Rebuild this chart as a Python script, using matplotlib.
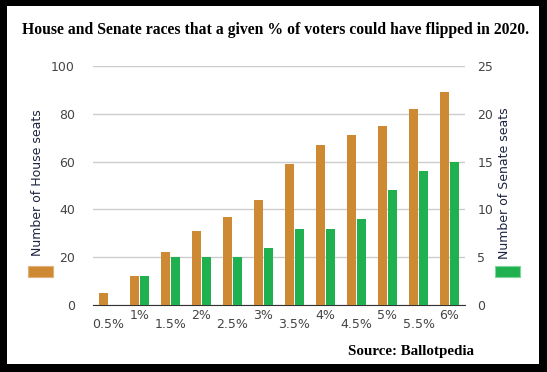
import matplotlib.pyplot as plt
import numpy as np
from matplotlib.patches import Rectangle

# share of voters needed to flip a race
labels = ['0.5%', '1%', '1.5%', '2%', '2.5%', '3%', '3.5%', '4%', '4.5%', '5%', '5.5%', '6%']
house = [5, 12, 22, 31, 37, 44, 59, 67, 71, 75, 82, 89]
senate = [0, 3, 5, 5, 5, 6, 8, 8, 9, 12, 14, 15]

orange = '#cd8a33'
green = '#1fb04f'
txt = '#1c2340'

W, H = 547, 372
fig = plt.figure(figsize=(W / 100, H / 100), dpi=100)
ax = fig.add_axes([93 / W, 1 - 305 / H, 372 / W, 239 / H])
ax2 = ax.twinx()

x = np.arange(len(labels))
w = 0.29
ax.bar(x - w / 2 - 0.015, house, width=w, color=orange, zorder=3)
ax2.bar(x + w / 2 + 0.015, senate, width=w, color=green, zorder=3)

ax.set_xlim(-0.5, len(labels) - 0.5)
ax.set_ylim(0, 100)
ax2.set_ylim(0, 25)
ax.set_yticks(range(0, 101, 20))
ax2.set_yticks(range(0, 26, 5))
ax.grid(axis='y', color='#cccccc', linewidth=1, zorder=0)
ax.set_axisbelow(True)

for a in (ax, ax2):
    for s in a.spines.values():
        s.set_visible(False)
    a.tick_params(length=0, labelsize=9, labelcolor='#444444')
ax.spines['bottom'].set_visible(True)
ax.spines['bottom'].set_color('#333333')
ax.tick_params(axis='y', pad=13)
ax2.tick_params(axis='y', pad=9)

ax.set_xticks(x)
ax.set_xticklabels(labels, fontsize=9, color='#444444')
for i, t in enumerate(ax.xaxis.get_major_ticks()):
    t.set_pad(9 if i % 2 == 0 else 3)

# side labels with legend swatches
fig.text(38 / W, 1 - 183 / H, 'Number of House seats', rotation=90, ha='center', va='center',
         fontsize=9, color=txt)
fig.text(505 / W, 1 - 183 / H, 'Number of Senate seats', rotation=90, ha='center', va='center',
         fontsize=9, color=txt)
fig.patches.append(Rectangle((28 / W, 1 - 277 / H), 25 / W, 11 / H, transform=fig.transFigure,
                             facecolor=orange, edgecolor='#e2b07a', linewidth=0.8))
fig.patches.append(Rectangle((495 / W, 1 - 277 / H), 25 / W, 11 / H, transform=fig.transFigure,
                             facecolor=green, edgecolor='#7fd69a', linewidth=0.8))

fig.text(276 / W, 1 - 30 / H, 'House and Senate races that a given % of voters could have flipped in 2020.',
         ha='center', va='center', fontsize=11.3, fontweight='bold', family='Liberation Serif', color='black')
fig.text(411 / W, 1 - 352 / H, 'Source: Ballotpedia', ha='center', va='center', fontsize=10.8,
         fontweight='bold', family='Liberation Serif', color='black')

# thick black frame
for r in [(0, 0, 7, H), (539, 0, W - 539, H), (0, 0, W, 6), (0, 364, W, H - 364)]:
    fig.patches.append(Rectangle((r[0] / W, 1 - (r[1] + r[3]) / H), r[2] / W, r[3] / H,
                                 transform=fig.transFigure, facecolor='black', edgecolor='none'))

plt.savefig('out.png')
